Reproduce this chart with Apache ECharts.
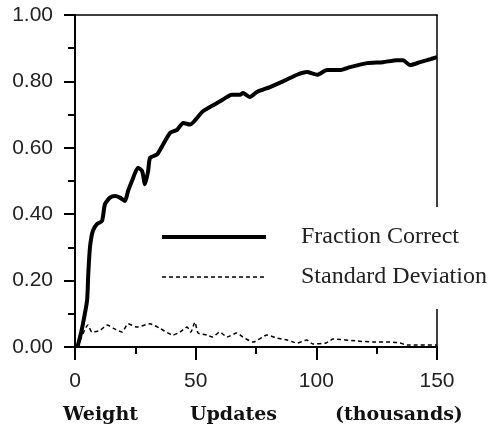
<!DOCTYPE html>
<html style="height: 100%">
<head>
<meta charset="utf-8">
<title>Fraction Correct</title>
<script src="https://cdn.jsdelivr.net/npm/echarts@6/dist/echarts.min.js"></script>
</head>
<body style="height: 100%; margin: 0; background: #fff">
<div id="container" style="width: 492px; height: 430px"></div>
<script type="text/javascript">
// weight updates (thousands) and fraction correct
var fcX = [1, 2.1, 3.3, 5, 5.5, 6.2, 7.4, 9.1, 11.2, 12.4, 14.5, 16.6, 18.6, 20.7, 22, 23.6, 26.1, 27.8, 29, 30.3,
  31.1, 34, 36.5, 39.4, 42.3, 44.8, 47.7, 53, 60.1, 65, 68.4, 69.6, 72.5, 75.4, 80.8, 86.2, 92, 96.1, 100.3, 104.4,
  109.8, 114, 121, 127.6, 133.4, 135.9, 138.8, 143, 145.9, 150];
var fcY = [0, 0.03, 0.07, 0.14, 0.22, 0.30, 0.35, 0.37, 0.38, 0.43, 0.45, 0.455, 0.45, 0.44, 0.47, 0.50, 0.54, 0.53, 0.49, 0.53,
  0.57, 0.58, 0.61, 0.645, 0.654, 0.675, 0.67, 0.71, 0.74, 0.76, 0.76, 0.765, 0.753, 0.768, 0.783, 0.80, 0.82, 0.828, 0.82, 0.834,
  0.834, 0.843, 0.855, 0.858, 0.864, 0.864, 0.849, 0.858, 0.864, 0.873];

// standard deviation
var sdX = [1, 5.4, 7, 10.4, 13.3, 15.7, 19.5, 22, 25.7, 31, 35, 40.6, 43.5, 46.4, 48, 49.7, 51, 54.7, 57, 60,
  63, 67, 69.6, 73.8, 79.6, 83.7, 87.9, 92, 96, 98.6, 104, 107, 117, 123.5, 130.5, 134.7, 137.6, 150];
var sdY = [0, 0.066, 0.045, 0.05, 0.066, 0.057, 0.045, 0.07, 0.06, 0.07, 0.057, 0.036, 0.045, 0.06, 0.045, 0.075, 0.042, 0.036, 0.03, 0.045,
  0.03, 0.042, 0.03, 0.015, 0.036, 0.027, 0.021, 0.012, 0.021, 0.009, 0.012, 0.024, 0.018, 0.015, 0.015, 0.012, 0.006, 0.006];

function pairs(xs, ys) {
  var out = [];
  for (var i = 0; i < xs.length; i++) out.push([xs[i], ys[i]]);
  return out;
}

var myChart = echarts.init(document.getElementById('container'));

var titleFont = { fontFamily: 'DejaVu Serif', fontWeight: 'bold', fontSize: 19, color: '#111' };

var option = {
  backgroundColor: '#fff',
  animation: false,
  grid: { left: 75, right: 55, top: 15, bottom: 83 },
  title: {
    left: 63,
    top: 406,
    padding: 0,
    text: '{a|Weight}{b|Updates}{c|(thousands)}',
    textStyle: {
      rich: {
        a: Object.assign({ width: 127 }, titleFont),
        b: Object.assign({ width: 145 }, titleFont),
        c: Object.assign({ width: 145 }, titleFont)
      }
    }
  },
  legend: {
    orient: 'vertical',
    left: 150,
    top: 207,
    padding: [18, 0, 20, 10],
    backgroundColor: '#fff',
    itemWidth: 104,
    itemHeight: 22,
    itemGap: 16,
    selectedMode: false,
    textStyle: { fontFamily: 'Liberation Serif', fontSize: 24, color: '#222', padding: [0, 0, 0, 30] },
    data: [
      { name: 'Fraction Correct', itemStyle: { opacity: 0 }, lineStyle: { width: 4, color: '#000' } },
      { name: 'Standard Deviation', itemStyle: { opacity: 0 }, lineStyle: { width: 1.5, color: '#000', type: [4, 3] } }
    ]
  },
  xAxis: [{
    type: 'value',
    min: 0,
    max: 150,
    interval: 50,
    axisLine: { onZero: false, lineStyle: { color: '#000', width: 2 } },
    axisTick: { length: 13, lineStyle: { color: '#000', width: 2 } },
    minorTick: { show: true, splitNumber: 2, length: 7, lineStyle: { color: '#000', width: 2 } },
    splitLine: { show: false },
    axisLabel: { margin: 24, fontFamily: 'Liberation Sans', fontSize: 21, color: '#222' }
  }, {
    type: 'value',
    position: 'top',
    min: 0,
    max: 150,
    axisLine: { show: true, onZero: false, lineStyle: { color: '#000', width: 1.5 } },
    axisTick: { show: false },
    axisLabel: { show: false },
    splitLine: { show: false }
  }],
  yAxis: [{
    type: 'value',
    min: 0,
    max: 1,
    interval: 0.2,
    axisLine: { show: true, onZero: false, lineStyle: { color: '#000', width: 2 } },
    axisTick: { show: true, length: 11, lineStyle: { color: '#000', width: 2 } },
    minorTick: { show: true, splitNumber: 2, length: 7, lineStyle: { color: '#000', width: 2 } },
    splitLine: { show: false },
    axisLabel: {
      margin: 22,
      fontFamily: 'Liberation Sans',
      fontSize: 21,
      color: '#222',
      formatter: function (v) { return v.toFixed(2); }
    }
  }, {
    type: 'value',
    position: 'right',
    min: 0,
    max: 1,
    axisLine: { show: true, onZero: false, lineStyle: { color: '#000', width: 1.5 } },
    axisTick: { show: false },
    axisLabel: { show: false },
    splitLine: { show: false }
  }],
  series: [{
    name: 'Fraction Correct',
    type: 'line',
    data: pairs(fcX, fcY),
    symbol: 'none',
    smooth: 0.2,
    lineStyle: { color: '#000', width: 4 },
    z: 3
  }, {
    name: 'Standard Deviation',
    type: 'line',
    data: pairs(sdX, sdY),
    symbol: 'none',
    smooth: 0.2,
    lineStyle: { color: '#000', width: 1.5, type: [4, 3] },
    z: 3
  }]
};

myChart.setOption(option);
</script>
</body>
</html>
